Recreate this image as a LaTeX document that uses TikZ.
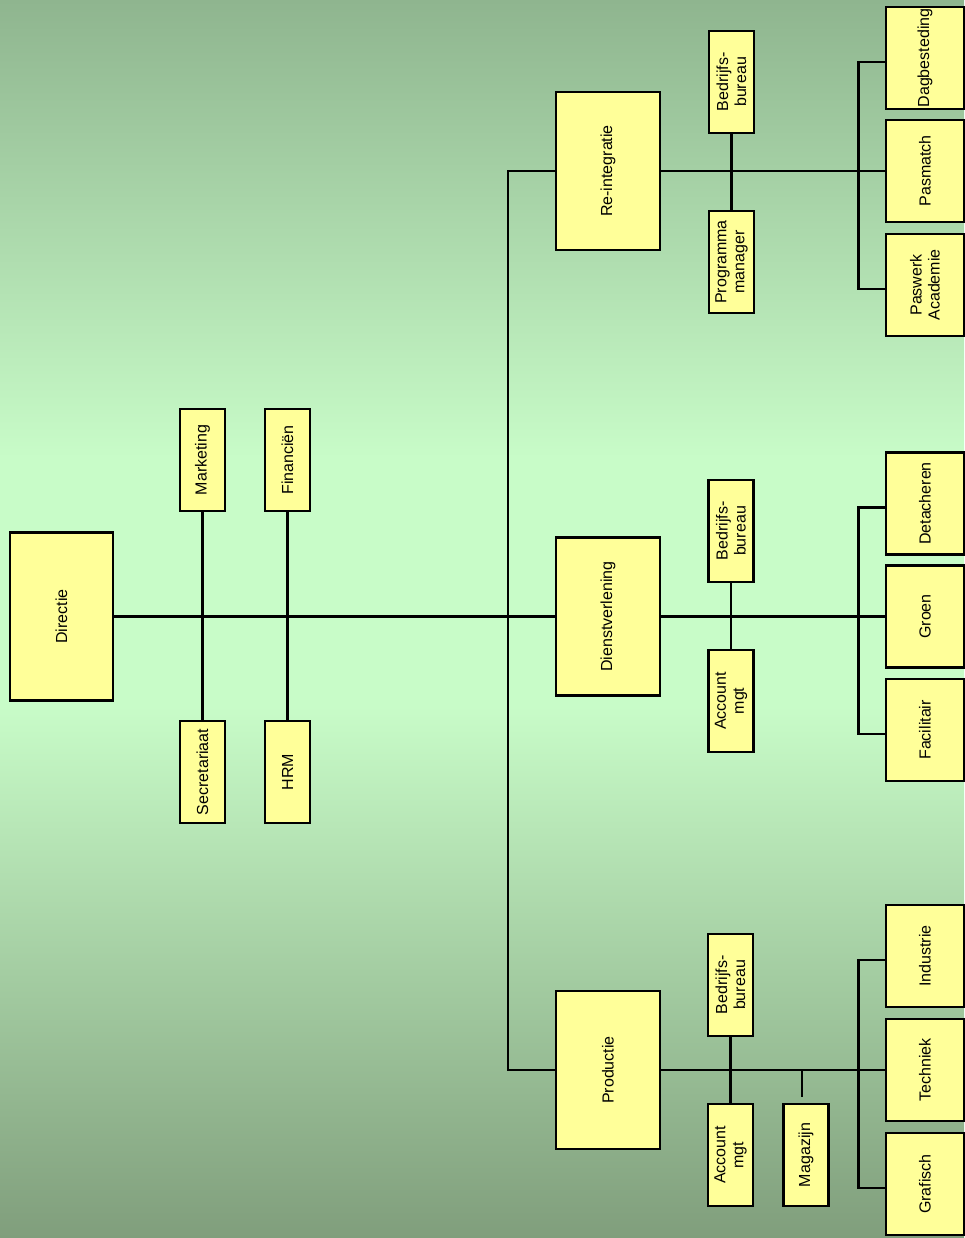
\documentclass[tikz,border=0pt]{standalone}
\usepackage{fontspec}
\setmainfont{Liberation Sans}
\usepackage{tikz}
\usetikzlibrary{positioning}
\definecolor{bgtop}{RGB}{143,181,143}
\definecolor{bglight}{RGB}{200,252,200}
\definecolor{bgbot}{RGB}{128,158,124}
\definecolor{boxfill}{RGB}{255,255,153}
\pgfdeclareverticalshading{bgshade}{100bp}{color(0bp)=(bgbot); color(25bp)=(bgbot); color(46.5bp)=(bglight); color(56.5bp)=(bglight); color(75bp)=(bgtop); color(100bp)=(bgtop)}

\begin{document}
\begin{tikzpicture}[x=1pt, y=1pt, line width=2.8pt,
    box/.style = {draw, fill=boxfill, rotate=90, align=center, inner sep=1pt, font=\fontsize{16}{18}\selectfont},
    head/.style = {box, minimum width=158pt, minimum height=104pt},
    staff/.style = {box, minimum width=102pt, minimum height=45pt},
    team/.style = {box, minimum width=102pt, minimum height=78pt}]
    \useasboundingbox (0,0) rectangle (964,1238);
    \shade[shading=bgshade] (0,0) rectangle (964,1238);

    \node[head, minimum width=168pt, minimum height=103pt](dir) at (61.5,621.5){Directie};
    \node[staff](mark) at (202.5,778){Marketing};
    \node[staff](secr) at (202.5,466){Secretariaat};
    \node[staff](fin) at (287.5,778){Financiën};
    \node[staff](hrm) at (287.5,466){HRM};

    \node[head](reint) at (608,1067){Re-integratie};
    \node[head](dienst) at (608,621.5){Dienstverlening};
    \node[head](prod) at (608,168){Productie};

    \node[staff](rbb) at (731.5,1156){Bedrijfs-\\bureau};
    \node[staff](rpm) at (731.5,976){Programma\\manager};
    \node[team](dagb) at (925,1180){Dagbesteding};
    \node[team](pasm) at (925,1067){Pasmatch};
    \node[team](pawa) at (925,953){Paswerk\\Academie};

    \node[staff](dbb) at (731,707){Bedrijfs-\\bureau};
    \node[staff](dam) at (731,537){Account\\mgt};
    \node[team](deta) at (925,734.5){Detacheren};
    \node[team](groen) at (925,621.5){Groen};
    \node[team](faci) at (925,508){Facilitair};

    \node[staff](pbb) at (730.5,253){Bedrijfs-\\bureau};
    \node[staff](pam) at (730.5,83){Account\\mgt};
    \node[staff](magz) at (806,83){Magazijn};
    \node[team](indu) at (925,282){Industrie};
    \node[team](tech) at (925,168){Techniek};
    \node[team](graf) at (925,54){Grafisch};

    \coordinate (trunk) at (508,621.5);
    \coordinate (mz) at ([xshift=-4pt]magz.east);

    \draw (dir.south) -- (dienst.north);
    \draw (mark.west) -- (secr.east);
    \draw (fin.west) -- (hrm.east);
    \draw (reint.north) -| (trunk) |- (prod.north);

    \draw (reint.south) -- (pasm.north);
    \draw (rbb.west) -- (rpm.east);
    \draw ([yshift=-4pt]dagb.north) -- ++(-26.5,0) |- ([yshift=-4pt]pawa.north);

    \draw (dienst.south) -- (groen.north);
    \draw (dbb.west) -- (dam.east);
    \draw ([yshift=-4pt]deta.north) -- ++(-26.5,0) |- ([yshift=-4pt]faci.north);

    \draw (prod.south) -- (tech.north);
    \draw (pbb.west) -- (pam.east);
    \draw[shorten <=6pt] (mz) -- (mz |- prod.south);
    \draw ([yshift=-4pt]indu.north) -- ++(-26.5,0) |- ([yshift=-4pt]graf.north);
\end{tikzpicture}
\end{document}
